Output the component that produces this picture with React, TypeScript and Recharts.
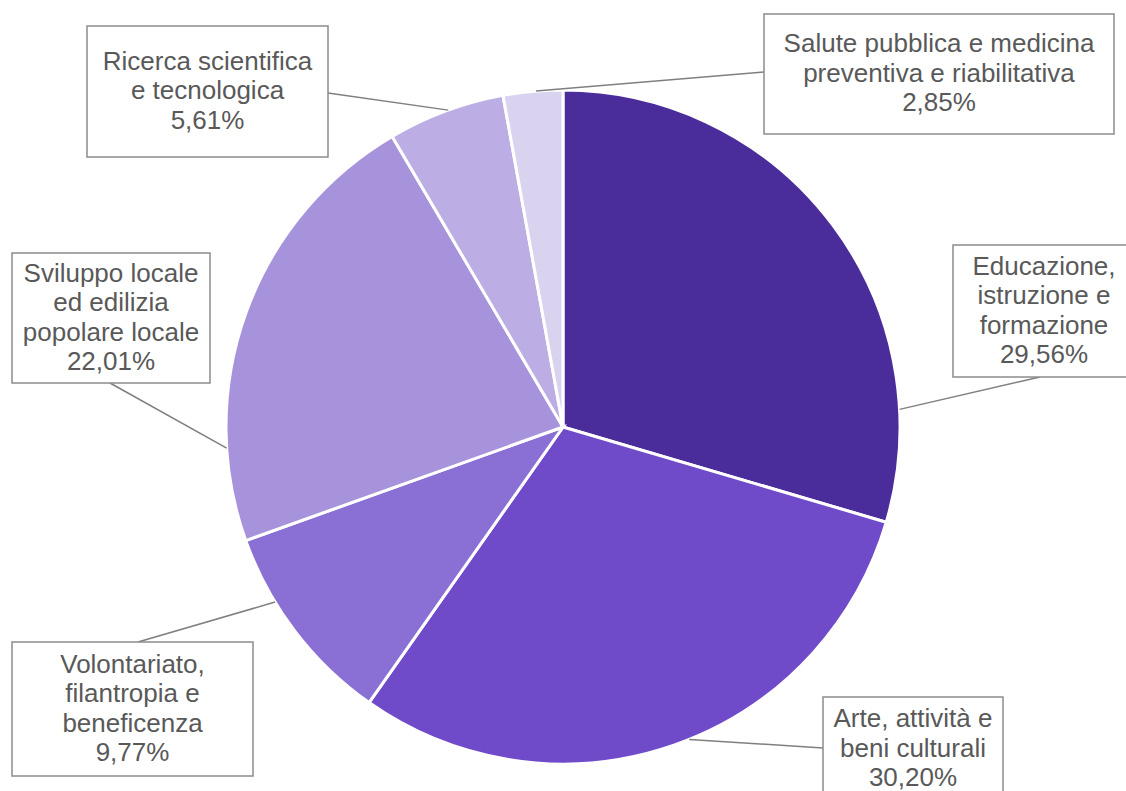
import { PieChart, Pie, Cell } from 'recharts';

// slices, clockwise from 12 o'clock
const categories = [
  'Educazione, istruzione e formazione',
  'Arte, attività e beni culturali',
  'Volontariato, filantropia e beneficenza',
  'Sviluppo locale ed edilizia popolare locale',
  'Ricerca scientifica e tecnologica',
  'Salute pubblica e medicina preventiva e riabilitativa',
];

// how each category name is wrapped inside its label box
const labelLines = [
  ['Educazione,', 'istruzione e', 'formazione'],
  ['Arte, attività e', 'beni culturali'],
  ['Volontariato,', 'filantropia e', 'beneficenza'],
  ['Sviluppo locale', 'ed edilizia', 'popolare locale'],
  ['Ricerca scientifica', 'e tecnologica'],
  ['Salute pubblica e medicina', 'preventiva e riabilitativa'],
];

const shares = [29.56, 30.2, 9.77, 22.01, 5.61, 2.85];

const colors = ['#4B2C9B', '#6F4BCA', '#8A6FD4', '#A792DC', '#BCAEE4', '#DAD3F0'];

// label box placement; ax/ay = where the leader meets the box,
// angle = where it meets the pie rim (degrees clockwise from top)
const boxes = [
  { x: 953, y: 245, w: 182, h: 132, ax: 1040, ay: 377, angle: 87 },
  { x: 823, y: 697, w: 180, h: 104, ax: 823, ay: 748, angle: 158 },
  { x: 12, y: 642, w: 241, h: 134, ax: 138, ay: 642, angle: 238.7 },
  { x: 12, y: 253, w: 198, h: 130, ax: 110, ay: 383, angle: 266.4 },
  { x: 87, y: 26, w: 241, h: 131, ax: 328, ay: 93, angle: 340.1 },
  { x: 764, y: 14, w: 350, h: 120, ax: 764, ay: 72, angle: 355.4 },
];

const data = categories.map((name, i) => ({ name, value: shares[i] }));

const pct = (v: number) => v.toFixed(2).replace('.', ',') + '%';

function renderLabel(props: any) {
  const { cx, cy, outerRadius, index } = props;
  const b = boxes[index];
  const t = (b.angle * Math.PI) / 180;
  const px = cx + outerRadius * Math.sin(t);
  const py = cy - outerRadius * Math.cos(t);
  const lines = [...labelLines[index], pct(shares[index])];
  const lh = 29.5;
  const first = b.y + (b.h - lines.length * lh) / 2 + lh * 0.77;
  return (
    <g key={`lbl-${index}`}>
      <line x1={px} y1={py} x2={b.ax} y2={b.ay} stroke="#7f7f7f" strokeWidth={1.5} />
      <rect x={b.x} y={b.y} width={b.w} height={b.h} fill="#fff" stroke="#8c8c8c" strokeWidth={1.5} />
      <text
        textAnchor="middle"
        fontFamily="'Liberation Sans', Arial, sans-serif"
        fontSize={26}
        fill="#595959"
      >
        {lines.map((l, i) => (
          <tspan key={i} x={b.x + b.w / 2} y={first + i * lh}>
            {l}
          </tspan>
        ))}
      </text>
    </g>
  );
}

export default function App() {
  return (
    <div style={{ position: 'absolute', left: 0, top: 0, background: '#fff' }}>
      <PieChart width={1126} height={791} margin={{ top: 0, right: 0, bottom: 0, left: 0 }}>
        <Pie
          data={data}
          dataKey="value"
          nameKey="name"
          cx={563}
          cy={427}
          outerRadius={337}
          startAngle={90}
          endAngle={-270}
          stroke="#fff"
          strokeWidth={3}
          label={renderLabel}
          labelLine={false}
          isAnimationActive={false}
        >
          {data.map((d, i) => (
            <Cell key={d.name} fill={colors[i]} />
          ))}
        </Pie>
      </PieChart>
    </div>
  );
}
